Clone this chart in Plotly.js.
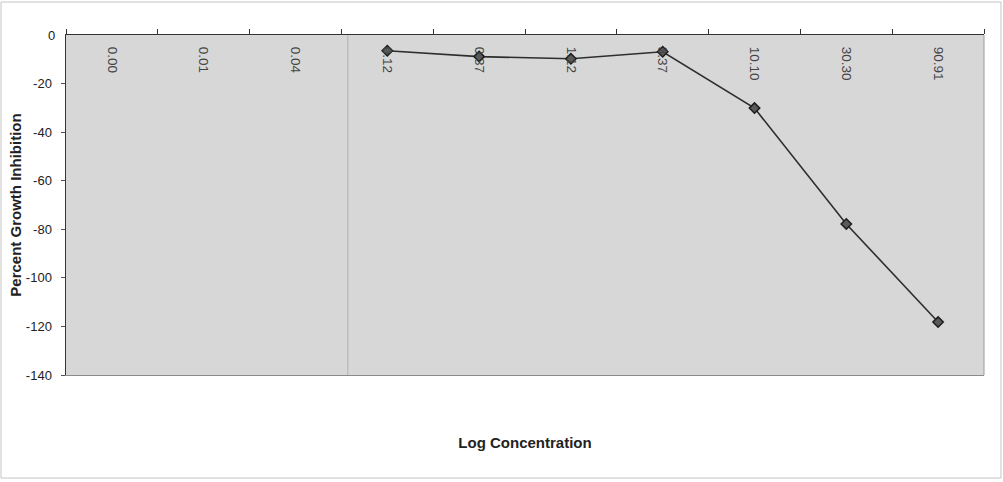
<!DOCTYPE html>
<html>
<head>
<meta charset="utf-8">
<script src="https://cdn.plot.ly/plotly-3.0.1.min.js"></script>
<style>
html,body{margin:0;padding:0;background:#fff;}
#chart{width:1003px;height:482px;}
</style>
</head>
<body>
<div id="chart"></div>
<script>
// Data
const concentrations = ["0.00", "0.01", "0.04", "0.12", "0.37", "1.12", "3.37", "10.10", "30.30", "90.91"];
const growthInhibition = [null, null, null, -6.5, -8.9, -9.8, -6.9, -30.1, -77.8, -118.2];
const yTickValues = [0, -20, -40, -60, -80, -100, -120, -140];
const yTickLabels = ["0", "-20", "-40", "-60", "-80", "-100", "-120", "-140"];

const trace = {
  type: 'scatter',
  mode: 'lines+markers',
  x: concentrations,
  y: growthInhibition,
  xaxis: 'x',
  yaxis: 'y',
  connectgaps: false,
  line: {color: '#2e2e2e', width: 1.6},
  marker: {symbol: 'diamond', size: 8, color: '#5a5a5a', line: {color: '#1e1e1e', width: 1.5}},
  showlegend: false,
  hoverinfo: 'x+y'
};

// invisible trace to carry the bottom axis
const bottomTrace = {
  type: 'scatter', mode: 'markers',
  x: concentrations, y: concentrations.map(() => null),
  xaxis: 'x2', yaxis: 'y', showlegend: false, hoverinfo: 'skip'
};

const tickFont = {family: 'Liberation Sans, Arial, sans-serif', size: 13, color: '#222'};

const layout = {
  width: 1003, height: 482,
  margin: {l: 66, r: 19, t: 35, b: 107, pad: 0},
  paper_bgcolor: '#ffffff',
  plot_bgcolor: '#d7d7d7',
  font: {family: 'Liberation Sans, Arial, sans-serif', color: '#222'},
  xaxis: {
    type: 'category',
    side: 'top',
    range: [-0.5, 9.5],
    tickson: 'boundaries',
    ticks: 'outside', ticklen: 5, tickcolor: '#333',
    tickangle: 90,
    ticklabelposition: 'inside',
    ticklabelstandoff: 4,
    tickfont: {size: 13.5, color: '#444'},
    showline: true, linecolor: '#333', linewidth: 1.5,
    showgrid: false, zeroline: false, fixedrange: true
  },
  xaxis2: {
    type: 'category',
    overlaying: 'x', matches: 'x', side: 'bottom', anchor: 'y',
    showticklabels: false, ticks: '',
    showline: true, linecolor: '#8a8a8a', linewidth: 1,
    showgrid: false, zeroline: false,
    title: {text: '<b>Log Concentration</b>', font: {size: 15, color: '#222'}, standoff: 62}
  },
  yaxis: {
    range: [-140, 0],
    tickvals: yTickValues,
    ticktext: yTickLabels,
    ticks: 'outside', ticklen: 4, tickcolor: '#555',
    ticklabelstandoff: 6,
    tickfont: tickFont,
    showline: true, linecolor: '#333', linewidth: 1.5,
    mirror: false,
    showgrid: false, zeroline: false, fixedrange: true,
    title: {text: '<b>Percent Growth Inhibition</b>', font: {size: 15, color: '#222'}, standoff: 0}
  },
  annotations: [
    // the top "0" tick label, which Plotly hides next to the inside x labels
    {xref: 'paper', yref: 'y', x: 0, y: yTickValues[0], text: yTickLabels[0],
     showarrow: false, xanchor: 'right', yanchor: 'middle', xshift: -9, font: tickFont}
  ],
  shapes: [
    {type: 'line', xref: 'paper', yref: 'paper', x0: 1, x1: 1, y0: 0, y1: 1, line: {color: '#9a9a9a', width: 1}},
    {type: 'line', xref: 'paper', yref: 'paper', x0: 0.307, x1: 0.307, y0: 0, y1: 1, line: {color: '#b0b0b0', width: 1}},
    {type: 'rect', xref: 'paper', yref: 'paper', x0: -0.0708, x1: 1.0185, y0: -0.303, y1: 1.097, line: {color: '#c4c4c4', width: 1}, layer: 'below'}
  ]
};

Plotly.newPlot('chart', [trace, bottomTrace], layout, {displayModeBar: false, staticPlot: true});
</script>
</body>
</html>
